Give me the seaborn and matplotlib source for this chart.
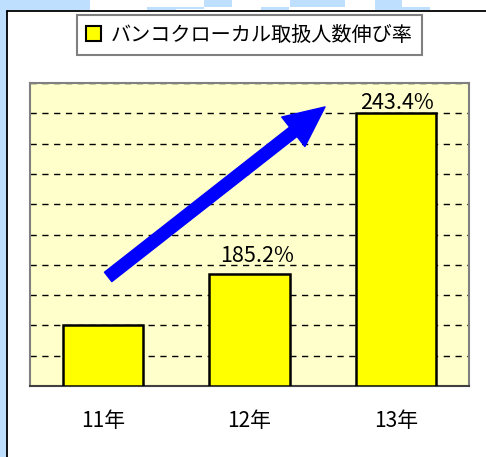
import matplotlib
matplotlib.use('Agg')
import matplotlib.pyplot as plt
import seaborn as sns
import pandas as pd
from matplotlib.patches import Patch, Rectangle
from matplotlib.lines import Line2D

# dados: índice relativo a 11年 (=100) e taxas de crescimento exibidas
anos = ['11年', '12年', '13年']
indice = [100.0, 185.2, 450.8]
taxas = ['', '185.2%', '243.4%']
legenda = 'バンコクローカル取扱人数伸び率'

sns.set_style('white')
plt.rcParams['font.family'] = ['Noto Sans CJK JP', 'DejaVu Sans']
plt.rcParams['text.color'] = 'black'
plt.rcParams['xtick.color'] = 'black'

W, H = 486, 457
fig = plt.figure(figsize=(W / 100, H / 100), dpi=100)
fig.patch.set_facecolor('white')


def px(x, y, w, h):
    # retângulo em pixels (origem no topo) -> fração da figura
    return (x / W, 1 - (y + h) / H, w / W, h / H)


# fundo azul claro da página (bordas)
azul = '#BFDFFF'
for r in [(0, 0, 6.5, H), (0, 0, 90, 9.5), (147, 7, 29, 3), (176, 7, 28, 2),
          (204, 0, 28, 7), (261, 7, 28, 3), (290, 0, 55, 7), (375, 0, 27, 9.5),
          (402, 7, 28, 3)]:
    x0, y0, w0, h0 = px(*r)
    fig.patches.append(Rectangle((x0, y0), w0, h0, transform=fig.transFigure,
                                 facecolor=azul, edgecolor='none', zorder=0))
fig.lines.append(Line2D([6.5 / W, 1], [1 - 10.5 / H] * 2, transform=fig.transFigure,
                        color='black', lw=1.3))
fig.lines.append(Line2D([6.5 / W] * 2, [0, 1 - 10.5 / H], transform=fig.transFigure,
                        color='black', lw=1.3))

ax = fig.add_axes([30 / W, 1 - 386 / H, 439 / W, 303 / H])
ax.set_facecolor('#FFFFCC')

df = pd.DataFrame({'ano': anos, 'indice': indice})
sns.barplot(data=df, x='ano', y='indice', color='#FFFF00', saturation=1,
            width=0.55, edgecolor='black', linewidth=1.8, ax=ax, zorder=3)

ax.set_xlim(-0.5, 2.5)
ax.set_ylim(0, 500)
ax.set_yticks(range(0, 501, 50))
ax.set_yticklabels([])
ax.tick_params(axis='y', length=0)
ax.yaxis.grid(True, color='black', linestyle=(0, (4.5, 4.0)), linewidth=1.0, zorder=1)
ax.set_axisbelow(True)
ax.set_xlabel('')
ax.set_ylabel('')

ax.set_xticks([-0.5, 0.5, 1.5, 2.5], minor=True)
ax.tick_params(axis='x', which='minor', direction='in', length=3, color='#555555', width=1)
ax.tick_params(axis='x', which='major', length=0, pad=17, labelsize=15)

for lado in ['top', 'left', 'right']:
    ax.spines[lado].set_color('#808080')
    ax.spines[lado].set_linewidth(1.5)
ax.spines['bottom'].set_color('#404040')
ax.spines['bottom'].set_linewidth(1.5)

# rótulos das taxas acima das barras
ajuste = [(0, 0), (5.4, 8.6), (1, 3)]
for i, (v, t) in enumerate(zip(indice, taxas)):
    if t:
        ax.annotate(t, xy=(i, v), xytext=ajuste[i], textcoords='offset points',
                    ha='center', va='baseline', fontsize=15.5, zorder=5)

# seta azul de tendência
ax.annotate('', xy=(0.672, 0.921), xytext=(0.178, 0.360),
            xycoords='axes fraction', textcoords='axes fraction',
            arrowprops=dict(arrowstyle='simple,head_length=2.9,head_width=2.7,tail_width=0.86',
                            mutation_scale=10, color='#0000FF', shrinkA=0, shrinkB=0),
            zorder=6)

handle = Patch(facecolor='#FFFF00', edgecolor='black', linewidth=1.5)
leg = fig.legend([handle], [legenda], loc='center', bbox_to_anchor=(249.5 / W, 1 - 35 / H),
                 fontsize=14.5, frameon=True, fancybox=False, framealpha=1,
                 edgecolor='#808080', borderpad=0.45, handlelength=0.7,
                 handleheight=0.7, handletextpad=0.5)
leg.get_frame().set_linewidth(1.5)

fig.savefig('out.png', dpi=100)
